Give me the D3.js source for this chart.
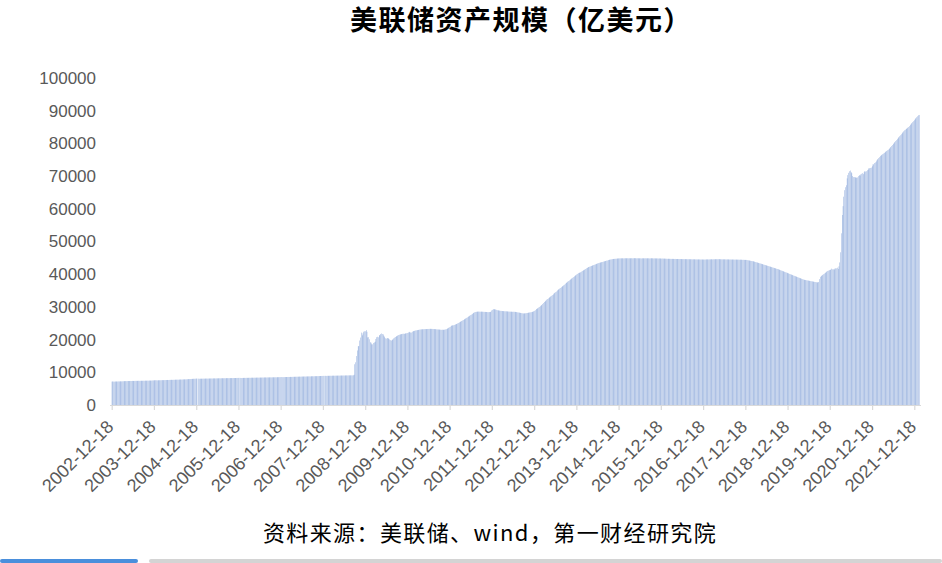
<!DOCTYPE html>
<html>
<head>
<meta charset="utf-8">
<script src="https://cdn.jsdelivr.net/npm/d3@7/dist/d3.min.js"></script>
<style>
  html, body { margin: 0; padding: 0; background: #ffffff; }
  svg { display: block; }
</style>
</head>
<body>
<svg id="chart" width="942" height="563"></svg>
<script>
// ---------------- DATA (weekly, 亿美元) ----------------
const title = "美联储资产规模（亿美元）";
const source = "资料来源：美联储、wind，第一财经研究院";
const yTicks = [0, 10000, 20000, 30000, 40000, 50000, 60000, 70000, 80000, 90000, 100000];
const xTickLabels = ["2002-12-18","2003-12-18","2004-12-18","2005-12-18","2006-12-18","2007-12-18",
  "2008-12-18","2009-12-18","2010-12-18","2011-12-18","2012-12-18","2013-12-18","2014-12-18",
  "2015-12-18","2016-12-18","2017-12-18","2018-12-18","2019-12-18","2020-12-18","2021-12-18"];

const v2002 = [7150, 7200];
const v2003 = [7170,7160,7180,7190,7180,7200,7220,7210,7230,7240,7230,7250,7270,
  7280,7300,7310,7300,7320,7330,7320,7340,7350,7340,7360,7370,7350,
  7370,7380,7390,7370,7400,7410,7390,7410,7400,7420,7410,7430,7420,
  7440,7450,7430,7460,7450,7470,7480,7460,7490,7510,7520,7540,7560,
  7570];
const v2004 = [7560,7540,7550,7570,7560,7580,7590,7600,7610,7600,7620,7630,7640,
  7650,7660,7640,7670,7680,7690,7700,7690,7710,7720,7740,7730,7750,
  7760,7750,7770,7780,7800,7790,7810,7820,7840,7830,7850,7860,7880,
  7900,7920,7930,7950,7970,7980,8000,8020,8030,8050,8070,8080];
const v2005 = [8060,8030,8040,8050,8040,8060,8070,8060,8080,8070,8090,8080,8100,
  8090,8110,8100,8120,8110,8130,8120,8140,8130,8150,8140,8160,8150,
  8170,8160,8180,8170,8190,8180,8200,8190,8210,8200,8220,8210,8220,
  8230,8220,8240,8230,8250,8240,8260,8250,8270,8280,8290,8300];
const v2006 = [8280,8260,8270,8290,8280,8300,8290,8310,8300,8320,8310,8330,8320,
  8340,8330,8350,8340,8360,8350,8370,8360,8380,8370,8390,8380,8400,
  8390,8410,8400,8420,8410,8430,8420,8440,8430,8450,8440,8460,8450,
  8470,8460,8480,8470,8490,8480,8500,8490,8510,8520,8530,8550];
const v2007 = [8530,8520,8540,8550,8540,8560,8570,8580,8570,8590,8600,8590,8610,
  8620,8630,8620,8640,8650,8660,8650,8670,8680,8670,8690,8700,8690,
  8710,8720,8710,8730,8740,8730,8750,8760,8750,8770,8780,8790,8780,
  8800,8810,8800,8820,8830,8840,8850,8860,8870,8880,8890,8910];
const v2008 = [8910,8920,8900,8930,8920,8940,8930,8950,8940,8960,8950,8970,8960,
  8980,8970,8990,8980,9000,8990,9010,9000,9020,9010,9030,9020,9040,
  9030,9050,9040,9060,9050,9070,9060,9070,9060,9080,9250,12460,13060,
  14970,16670,17950,18050,19720,20630,22140,21310,21900,22410,22540,22560,22900,
  22400];
const v2009 = [20680,20740,20100,19200,19050,18560,18550,18980,19130,19370,20180,20730,20870,
  20710,21330,21330,21700,21880,21700,21580,21140,20730,20400,20320,20480,20400,
  20300,20060,19830,19700,19880,20100,20370,20600,20800,20950,21100,21250,21400,
  21500,21560,21650,21700,21760,21800,21750,21850,21900,21950,22030,22150,22380];
const v2010 = [22230,22160,22170,22420,22560,22600,22700,22800,22850,22880,22930,22980,23050,
  23100,23120,23150,23160,23180,23200,23220,23200,23230,23250,23260,23280,23300,
  23270,23280,23260,23240,23220,23200,23180,23150,23120,23100,23080,23050,23030,
  23000,23020,22990,23010,23050,23130,23200,23300,23480,23620,23780,23950,24220];
const v2011 = [24300,24360,24400,24500,24600,24710,24800,24950,25100,25250,25400,25550,25700,
  25850,26000,26150,26320,26480,26650,26800,26980,27150,27300,27480,27650,27800,
  28050,28200,28350,28450,28500,28530,28560,28560,28550,28540,28550,28530,28520,
  28500,28480,28470,28450,28440,28420,28400,28420,28420,28500,28900,29100,29300];
const v2012 = [29300,29250,29200,29100,29000,28950,28900,28850,28800,28780,28750,28720,28700,
  28680,28660,28650,28620,28600,28580,28560,28550,28540,28520,28500,28520,28500,
  28480,28450,28400,28350,28300,28250,28200,28150,28100,28050,28000,28000,28020,
  28060,28100,28150,28200,28250,28300,28350,28400,28450,28550,28650,28800,29000];
const v2013 = [29300,29400,29600,29800,30000, 30200,30400,30600,30900, 31200,31500,31700,31900,
  32200,32400,32600,32800, 33000,33200,33400,33600,33800, 34100,34300,34500,34700,
  35000,35200,35400,35600,35800, 36000,36200,36400,36600, 36800,37100,37300,37500,
  37700,37900,38100,38300,38500, 38700,38900,39100,39300, 39500,39700,39900,40100];
const v2014 = [40300,40400,40500,40600,40800, 41000,41100,41300,41400, 41600,41800,41900,42100,
  42200,42300,42400,42500,42600, 42700,42800,42900,43000, 43100,43200,43300,43400,
  43500,43550,43600,43700,43750, 43850,43900,44000,44050, 44150,44200,44300,44350,
  44450,44500,44550,44600,44650, 44680,44700,44730,44750, 44780,44800,44820,44840,44850];
const v2015 = [44850,44830,44870,44840,44860,44880,44850,44870,44890,44860,44880,44850,44870,
  44890,44860,44880,44900,44870,44890,44860,44880,44850,44870,44840,44860,44830,
  44850,44870,44840,44860,44880,44850,44870,44840,44860,44830,44850,44870,44840,
  44860,44830,44850,44820,44840,44810,44830,44800,44820,44790,44810,44780,44800];
const v2016 = [44780,44760,44770,44740,44730,44710,44720,44700,44710,44690,44680,44690,44670,
  44680,44660,44670,44650,44660,44640,44650,44630,44640,44620,44630,44610,44620,
  44600,44610,44590,44600,44580,44590,44570,44580,44560,44570,44550,44560,44540,
  44550,44530,44540,44520,44530,44510,44520,44500,44510,44490,44500,44480,44490];
const v2017 = [44500,44520,44510,44530,44520,44540,44530,44550,44560,44540,44570,44560,44580,
  44570,44590,44580,44600,44590,44580,44570,44560,44550,44540,44550,44530,44540,
  44520,44530,44510,44520,44500,44510,44490,44500,44480,44490,44470,44480,44460,
  44470,44450,44460,44440,44450,44420,44430,44400,44410,44380,44390,44360,44370];
const v2018 = [44300,44250,44200,44150,44100,44050,44000,43950,43880,43800,43720,43650,43580,
  43500,43420,43350,43280,43200,43120,43040,42960,42880,42800,42720,42640,42560,
  42480,42400,42320,42240,42160,42080,42000,41920,41840,41760,41680,41600,41520,
  41420,41320,41220,41120,41020,40920,40820,40720,40620,40520,40420,40320,40220];
const v2019 = [40100,40000,39900,39800,39700,39600,39500,39400,39300,39200,39100,39000,38900,
  38800,38700,38600,38500,38400,38300,38250,38200,38150,38100,38050,38000,37950,
  37900,37850,37800,37750,37700,37650,37600,37550,37500,37500,37600,38500,39200,
  39400,39600,39800,40000,40200,40400,40600,40800,41000,41100,41200,41300,41400];
const v2020 = [41700,41500,41500,41400,41700,41800,41800,42000,41600,42400,43600,46700,52500,
  58100,60800,63700,65700,66600,67200,69300,70300,71000,71500,71700,71200,70900,
  70000,69700,69700,69600,69600,69500,69600,70000,70300,70100,70500,70700,70900,
  70600,71200,71500,71400,71500,71800,72000,72400,72400,72500,72600,73000,73600,
  73600];
const v2021 = [74000,74200,74500,74900,75200,75500,75800,76100,76300,76500,76700,76900,77100,
  77300,77500,77700,77900,78100,78300,78600,78900,79200,79500,79800,80100,80400,
  80700,81000,81300,81600,81900,82200,82500,82800,83100,83400,83700,84000,84200,
  84400,84600,84800,85000,85300,85600,85900,86200,86500,86800,87100,87400,87700];
const v2022 = [88000, 88300, 88600, 88700];

const yearly = [
  [2002, v2002], [2003, v2003], [2004, v2004], [2005, v2005], [2006, v2006], [2007, v2007],
  [2008, v2008], [2009, v2009], [2010, v2010], [2011, v2011], [2012, v2012], [2013, v2013],
  [2014, v2014], [2015, v2015], [2016, v2016], [2017, v2017], [2018, v2018], [2019, v2019],
  [2020, v2020], [2021, v2021], [2022, v2022]
];

// ---------------- BUILD weekly records (Wednesdays) ----------------
const parse = d3.timeParse("%Y-%m-%d");
const data = [];
yearly.forEach(([yr, vals]) => {
  let first;
  if (yr === 2002) first = parse("2002-12-18");
  else {
    first = new Date(yr, 0, 1);
    while (first.getDay() !== 3) first = d3.timeDay.offset(first, 1);
  }
  vals.forEach((v, i) => data.push({ date: d3.timeDay.offset(first, 7 * i), value: v }));
});
const tickDates = xTickLabels.map(parse);

// ---------------- CHART ----------------
const svg = d3.select("#chart");
const plotTop = 78, plotBottom = 405;

const x = d3.scaleTime()
  .domain([tickDates[0], tickDates[tickDates.length - 1]])
  .range([111.7, 914.3]);
const y = d3.scaleLinear().domain([0, 100000]).range([plotBottom, plotTop]);

const barW = 0.3;

// Bars
svg.append("g")
  .selectAll("rect")
  .data(data)
  .join("rect")
  .attr("x", d => x(d.date) - barW / 2 + 0.3)
  .attr("y", d => y(d.value))
  .attr("width", barW)
  .attr("height", d => y(0) - y(d.value))
  .attr("fill", "#4472c4");

// Y axis (labels only)
const yAxis = svg.append("g")
  .attr("transform", "translate(96,0)")
  .call(d3.axisLeft(y).tickValues(yTicks).tickSize(0).tickPadding(0).tickFormat(d3.format("d")));
yAxis.select(".domain").remove();
yAxis.selectAll("text")
  .attr("fill", "#595959")
  .style("font-family", "'Liberation Sans', Arial, sans-serif")
  .style("font-size", "17px");

// X axis
const xAxis = svg.append("g")
  .attr("transform", `translate(0,${plotBottom})`)
  .call(d3.axisBottom(x).tickValues(tickDates).tickSize(5).tickFormat(d3.timeFormat("%Y-%m-%d")));
xAxis.select(".domain").remove();
xAxis.selectAll(".tick line").attr("stroke", "#d9d9d9").attr("stroke-width", 1.2);
xAxis.selectAll("text")
  .attr("fill", "#595959")
  .attr("y", 0).attr("x", 0).attr("dy", null)
  .attr("text-anchor", "end")
  .attr("transform", "translate(2.5,23) rotate(-45)")
  .style("font-family", "'Liberation Sans', Arial, sans-serif")
  .style("font-size", "18px");
svg.append("line")
  .attr("x1", 110).attr("x2", 921)
  .attr("y1", plotBottom + 0.5).attr("y2", plotBottom + 0.5)
  .attr("stroke", "#d9d9d9").attr("stroke-width", 1.2);

// Title
svg.append("text")
  .attr("x", 521).attr("y", 30)
  .attr("text-anchor", "middle")
  .attr("fill", "#000")
  .style("font-family", "'Noto Sans CJK SC', sans-serif")
  .style("font-weight", "700")
  .style("font-size", "27px")
  .style("letter-spacing", "1.5px")
  .text(title);

// Source
svg.append("text")
  .attr("x", 490).attr("y", 541)
  .attr("text-anchor", "middle")
  .attr("fill", "#000")
  .style("font-family", "'Noto Sans CJK SC', sans-serif")
  .style("font-size", "22px")
  .style("letter-spacing", "1.4px")
  .text(source);

// bottom strip (tab / scrollbar)
svg.append("rect").attr("x", 0).attr("y", 559).attr("width", 138).attr("height", 4)
  .attr("rx", 2).attr("fill", "#4a8fdc");
svg.append("rect").attr("x", 149).attr("y", 559).attr("width", 793).attr("height", 4)
  .attr("rx", 2).attr("fill", "#d4d4d4");
</script>
</body>
</html>
